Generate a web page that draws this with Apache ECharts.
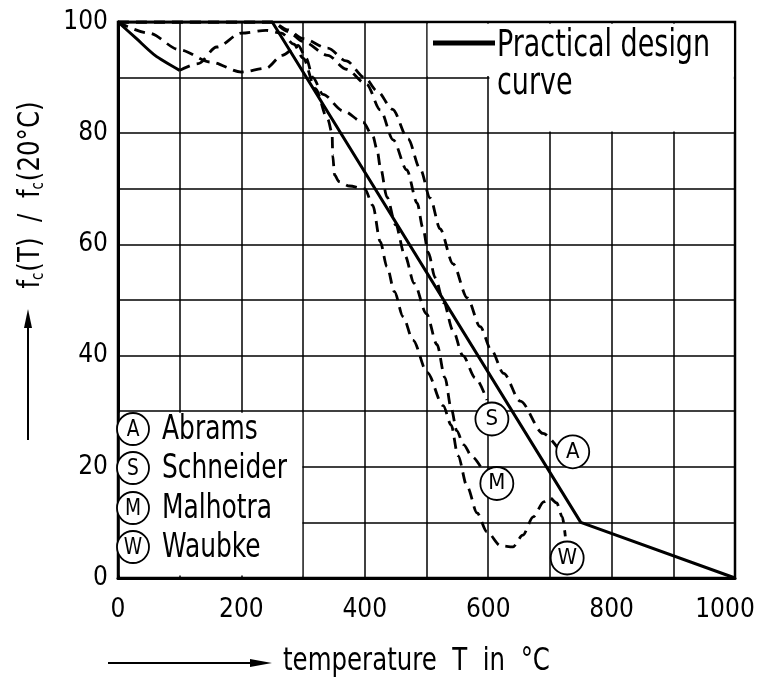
<!DOCTYPE html>
<html><head><meta charset="utf-8">
<script src="https://cdn.jsdelivr.net/npm/echarts@6/dist/echarts.min.js"></script>
<style>html,body{margin:0;padding:0;background:#fff}#c{width:758px;height:684px}</style>
</head><body><div id="c"></div>
<script>
const FONT = '"DejaVu Sans Condensed","Liberation Sans Narrow","DejaVu Sans",sans-serif';

// tick labels
const xTicks = [0, 200, 400, 600, 800, 1000];
const yTicks = [0, 20, 40, 60, 80, 100];

// Practical design curve
const designT = [0, 250, 750, 1000];
const designF = [100, 100, 10, 0];

// Abrams
const abramsT = [0, 250, 275, 300, 340, 370, 400, 420, 445, 470, 490, 506, 522, 543, 566, 587, 605, 625, 652, 689, 712];
const abramsF = [100, 100, 98.6, 97, 95.3, 93, 90, 87.6, 84.3, 79, 73.5, 68.3, 62.8, 56.5, 50.4, 45.2, 41, 36.8, 31.8, 26, 23.5];

// Schneider
const schneiderT = [0, 250, 275, 300, 340, 370, 403, 425, 446, 468, 485, 494, 503, 514, 528, 543, 559, 579, 598];
const schneiderF = [100, 100, 98.3, 96.5, 94, 91.5, 88.8, 84.2, 78.8, 73.4, 67.4, 63, 58.5, 54, 49.5, 44.5, 40, 36, 32];

// Malhotra
const malhotraT = [0, 50, 100, 150, 200, 240, 266, 292, 305, 316, 332, 365, 397, 413, 420, 425, 436, 450, 465, 480, 500, 517, 530, 540, 549, 560, 574, 595];
const malhotraF = [100, 98, 95, 92.8, 91, 91.7, 94, 95.8, 93.5, 90, 87, 84, 82, 79.5, 77, 74, 68.5, 63.5, 58, 53, 47.5, 42, 36, 30.5, 26.5, 24, 21.8, 18.5];

// Waubke
const waubkeT = [0, 30, 60, 100, 130, 160, 200, 240, 265, 285, 300, 320, 340, 347, 348, 351, 358, 375, 400, 413, 425, 436, 448, 462, 478, 501, 527, 540, 551, 566, 582, 598, 620, 640, 656, 673, 690, 700, 711, 720, 725];
const waubkeF = [100, 97, 94, 91.3, 92.5, 95.5, 98, 98.5, 98, 96, 93.5, 88, 82.5, 80, 76, 72.5, 71.3, 70.5, 70, 67, 60.5, 56, 51.5, 47, 42.8, 37, 31, 27.5, 22, 16.4, 11.7, 8.3, 5.8, 5.6, 7.7, 11, 13.7, 14.4, 13.5, 11, 7.5];
const waubkeSolidCount = 4; // first part drawn as a full line

// circled curve labels
const curveLetters = ['A', 'S', 'M', 'W'];
const curveLabelT = [737, 606, 614, 728];
const curveLabelF = [22.7, 28.6, 17, 3.6];

// legend
const legendLetters = ['A', 'S', 'M', 'W'];
const legendNames = ['Abrams', 'Schneider', 'Malhotra', 'Waubke'];
const designName = ['Practical design', 'curve'];

const pts = (T, F) => T.map((t, i) => [t, F[i]]);

const dashed = (name, data) => ({
  name, type: 'line', data, symbol: 'none', smooth: 0.3, smoothMonotone: 'x', z: 3,
  lineStyle: { color: '#000', width: 2.8, type: [11, 7] }
});

const chart = echarts.init(document.getElementById('c'));

const legendGraphics = [];
const rowY = [429, 468, 508, 547];
legendLetters.forEach((l, i) => {
  legendGraphics.push({ type: 'circle', shape: { cx: 133, cy: rowY[i], r: 16 }, style: { fill: '#fff', stroke: '#000', lineWidth: 1.8 }, z: 100 });
  legendGraphics.push({ type: 'text', x: 133, y: rowY[i] + 1, scaleX: 0.9, style: { text: l, font: '23px ' + FONT, fill: '#000', align: 'center', verticalAlign: 'middle' }, z: 101 });
  legendGraphics.push({ type: 'text', x: 162, y: rowY[i] + 1, scaleX: 0.84, style: { text: legendNames[i], font: '33px ' + FONT, fill: '#000', align: 'left', verticalAlign: 'middle' }, z: 101 });
});

const option = {
  animation: false,
  backgroundColor: '#fff',
  grid: { left: 118, right: 23, top: 22, bottom: 106, outerBoundsMode: 'none', containLabel: false, show: true, borderColor: '#000', borderWidth: 2.5, backgroundColor: 'transparent' },
  xAxis: {
    type: 'value', min: 0, max: 1000, interval: 100,
    axisLine: { show: true, lineStyle: { color: '#000', width: 3 } },
    axisTick: { show: false },
    splitLine: { show: true, lineStyle: { color: '#000', width: 1.5 } },
    axisLabel: {
      formatter: v => xTicks.includes(v) ? (v === xTicks[xTicks.length - 1] ? '{m|' + v + '}' : String(v)) : '',
      color: '#000', fontFamily: FONT, fontSize: 26, margin: 19,
      rich: { m: { fontFamily: FONT, fontSize: 26, color: '#000', padding: [0, 20, 0, 0] } }
    }
  },
  yAxis: {
    type: 'value', min: 0, max: 100, interval: 10,
    axisLine: { show: true, lineStyle: { color: '#000', width: 3 } },
    axisTick: { show: false },
    splitLine: { show: true, lineStyle: { color: '#000', width: 1.5 } },
    axisLabel: { formatter: v => yTicks.includes(v) ? String(v) : '', color: '#000', fontFamily: FONT, fontSize: 26, margin: 10 }
  },
  series: [
    {
      name: 'legend boxes', type: 'line', data: [], z: 1, silent: true,
      markArea: {
        silent: true,
        itemStyle: { color: '#fff', borderWidth: 0 },
        data: [
          [{ coord: [3, 0.45] }, { coord: [298.5, 29.7] }],
          [{ coord: [502, 90.3] }, { coord: [998, 99.7] }],
          [{ coord: [602, 80.3] }, { coord: [998, 91] }]
        ]
      }
    },
    {
      name: 'Practical design curve', type: 'line', data: pts(designT, designF), symbol: 'none', z: 4,
      lineStyle: { color: '#000', width: 3 }
    },
    dashed('Abrams', pts(abramsT, abramsF)),
    dashed('Schneider', pts(schneiderT, schneiderF)),
    dashed('Malhotra', pts(malhotraT, malhotraF)),
    {
      name: 'Waubke start', type: 'line', data: pts(waubkeT, waubkeF).slice(0, waubkeSolidCount), symbol: 'none', smooth: 0.25, z: 3,
      lineStyle: { color: '#000', width: 3 }
    },
    dashed('Waubke', pts(waubkeT, waubkeF).slice(waubkeSolidCount - 1)),
    {
      name: 'curve labels', type: 'scatter', z: 6, symbol: 'circle', symbolSize: 33,
      data: curveLetters.map((l, i) => ({ name: l, value: [curveLabelT[i], curveLabelF[i]] })),
      itemStyle: { color: '#fff', borderColor: '#000', borderWidth: 1.8, opacity: 1 },
      label: { show: true, position: 'inside', formatter: '{b}', color: '#000', fontFamily: FONT, fontSize: 22 }
    }
  ],
  graphic: [
    // design legend
    { type: 'line', shape: { x1: 433, y1: 43, x2: 495, y2: 43 }, style: { stroke: '#000', lineWidth: 5 }, z: 100 },
    { type: 'text', x: 497, y: 46, scaleX: 0.81, style: { text: designName[0], font: '37px ' + FONT, fill: '#000', align: 'left', verticalAlign: 'middle' }, z: 100 },
    { type: 'text', x: 497, y: 84, scaleX: 0.81, style: { text: designName[1], font: '37px ' + FONT, fill: '#000', align: 'left', verticalAlign: 'middle' }, z: 100 },
    ...legendGraphics,
    // y axis title + arrow
    {
      type: 'text', x: 31, y: 195, rotation: Math.PI / 2, scaleX: 0.88, z: 100,
      style: {
        text: '{a|f}{s|c}{a|(T)  /  f}{s|c}{a|(20°C)}',
        align: 'center', verticalAlign: 'middle', fill: '#000',
        rich: {
          a: { fontFamily: FONT, fontSize: 31, color: '#000', lineHeight: 32 },
          s: { fontFamily: FONT, fontSize: 17, color: '#000', verticalAlign: 'top', padding: [15, 1, 0, 0], lineHeight: 17 }
        }
      }
    },
    { type: 'line', shape: { x1: 28, y1: 440, x2: 28, y2: 325 }, style: { stroke: '#000', lineWidth: 2 }, z: 100 },
    { type: 'polygon', shape: { points: [[24, 328], [28, 309], [32, 328]] }, style: { fill: '#000' }, z: 100 },
    // x axis title + arrow
    { type: 'line', shape: { x1: 108, y1: 663, x2: 255, y2: 663 }, style: { stroke: '#000', lineWidth: 2 }, z: 100 },
    { type: 'polygon', shape: { points: [[250, 659], [272, 663], [250, 667]] }, style: { fill: '#000' }, z: 100 },
    { type: 'text', x: 283, y: 662, scaleX: 0.85, style: { text: 'temperature  T  in  °C', font: '32px ' + FONT, fill: '#000', align: 'left', verticalAlign: 'middle' }, z: 100 }
  ]
};
chart.setOption(option);
</script>
</body></html>
